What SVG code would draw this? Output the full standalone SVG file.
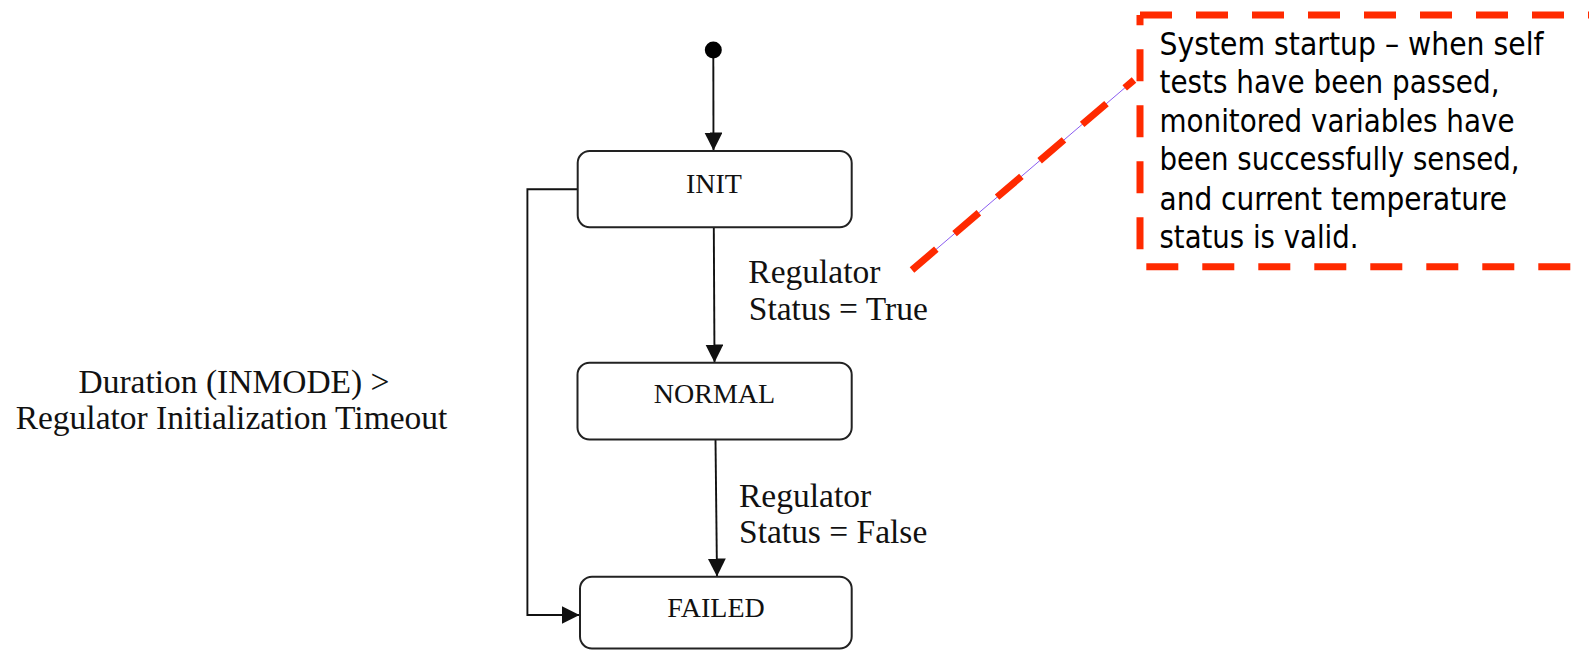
<svg xmlns="http://www.w3.org/2000/svg" width="1589" height="651" viewBox="0 0 1589 651">
  <style>
    .state { fill: #ffffff; stroke: #222222; stroke-width: 2; }
    .state-label { font-family: "Liberation Serif", "Times New Roman", serif; font-size: 28px; fill: #111111; text-anchor: middle; }
    .guard { font-family: "Liberation Serif", "Times New Roman", serif; font-size: 33.5px; fill: #111111; }
    .edge { fill: none; stroke: #111111; stroke-width: 1.9; }
    .note-text { font-family: "DejaVu Sans", Verdana, sans-serif; font-size: 32px; fill: #000000; }
    .note-border { fill: none; stroke: #ff2a00; stroke-width: 7; stroke-dasharray: 32 24; }
  </style>
  <defs>
    <marker id="arrow" markerUnits="userSpaceOnUse" markerWidth="18" markerHeight="18" viewBox="0 0 16 16" refX="16" refY="8" orient="auto">
      <path d="M0,0 L16,8 L0,16 Z" fill="#111111"/>
    </marker>
  </defs>

  <rect width="1589" height="651" fill="#ffffff"/>

  <!-- transitions -->
  <g id="connectors">
    <path class="edge" d="M713.3,50 L713.5,150.5" marker-end="url(#arrow)"/>
    <path class="edge" d="M713.8,227.5 L714.5,362.5" marker-end="url(#arrow)"/>
    <path class="edge" d="M715.5,440 L717,576.5" marker-end="url(#arrow)"/>
    <path class="edge" d="M577.7,189.3 L527.4,189.3 L527.4,615 L579.5,615" marker-end="url(#arrow)"/>
  </g>

  <g id="start">
    <circle cx="713.3" cy="50" r="8.5" fill="#000000"/>
  </g>

  <g id="init">
    <rect class="state" x="577.7" y="151" width="274" height="76.3" rx="12" ry="12"/>
    <text class="state-label" x="714" y="193.3">INIT</text>
  </g>

  <g id="normal">
    <rect class="state" x="577.5" y="362.7" width="274.2" height="76.8" rx="12" ry="12"/>
    <text class="state-label" x="714.5" y="403.3">NORMAL</text>
  </g>

  <g id="failed">
    <rect class="state" x="580" y="576.7" width="271.7" height="71.8" rx="12" ry="12"/>
    <text class="state-label" x="716" y="617.3">FAILED</text>
  </g>

  <!-- guard conditions -->
  <g id="guard-true">
    <text class="guard" x="748.3" y="283.3">Regulator</text>
    <text class="guard" x="748.8" y="320">Status = True</text>
  </g>

  <g id="guard-false">
    <text class="guard" x="739" y="506.7">Regulator</text>
    <text class="guard" x="739" y="542.7">Status = False</text>
  </g>

  <g id="guard-timeout">
    <text class="guard" x="234" y="393.3" text-anchor="middle" font-size="34">Duration (INMODE) &gt;</text>
    <text class="guard" x="231.5" y="429.3" text-anchor="middle" font-size="34">Regulator Initialization Timeout</text>
  </g>

  <!-- annotation note -->
  <g id="note">
    <line x1="912" y1="270" x2="1134" y2="80" stroke="#8a5cf0" stroke-width="1"/>
    <line class="note-border" x1="912" y1="270" x2="1134" y2="80"/>
    <line class="note-border" x1="1140" y1="15" x2="1600" y2="15"/>
    <line class="note-border" x1="1140" y1="15" x2="1140" y2="266.7" stroke-dashoffset="21.7"/>
    <line class="note-border" x1="1140" y1="266.7" x2="1600" y2="266.7" stroke-dashoffset="49.7"/>
    <text class="note-text" x="1159.5" y="55" textLength="384" lengthAdjust="spacingAndGlyphs">System startup – when self</text>
    <text class="note-text" x="1159.5" y="92.7" textLength="340" lengthAdjust="spacingAndGlyphs">tests have been passed,</text>
    <text class="note-text" x="1159.5" y="131.7" textLength="355" lengthAdjust="spacingAndGlyphs">monitored variables have</text>
    <text class="note-text" x="1159.5" y="170" textLength="360" lengthAdjust="spacingAndGlyphs">been successfully sensed,</text>
    <text class="note-text" x="1159.5" y="210" textLength="347.5" lengthAdjust="spacingAndGlyphs">and current temperature</text>
    <text class="note-text" x="1159.5" y="248.3" textLength="199" lengthAdjust="spacingAndGlyphs">status is valid.</text>
  </g>
</svg>
